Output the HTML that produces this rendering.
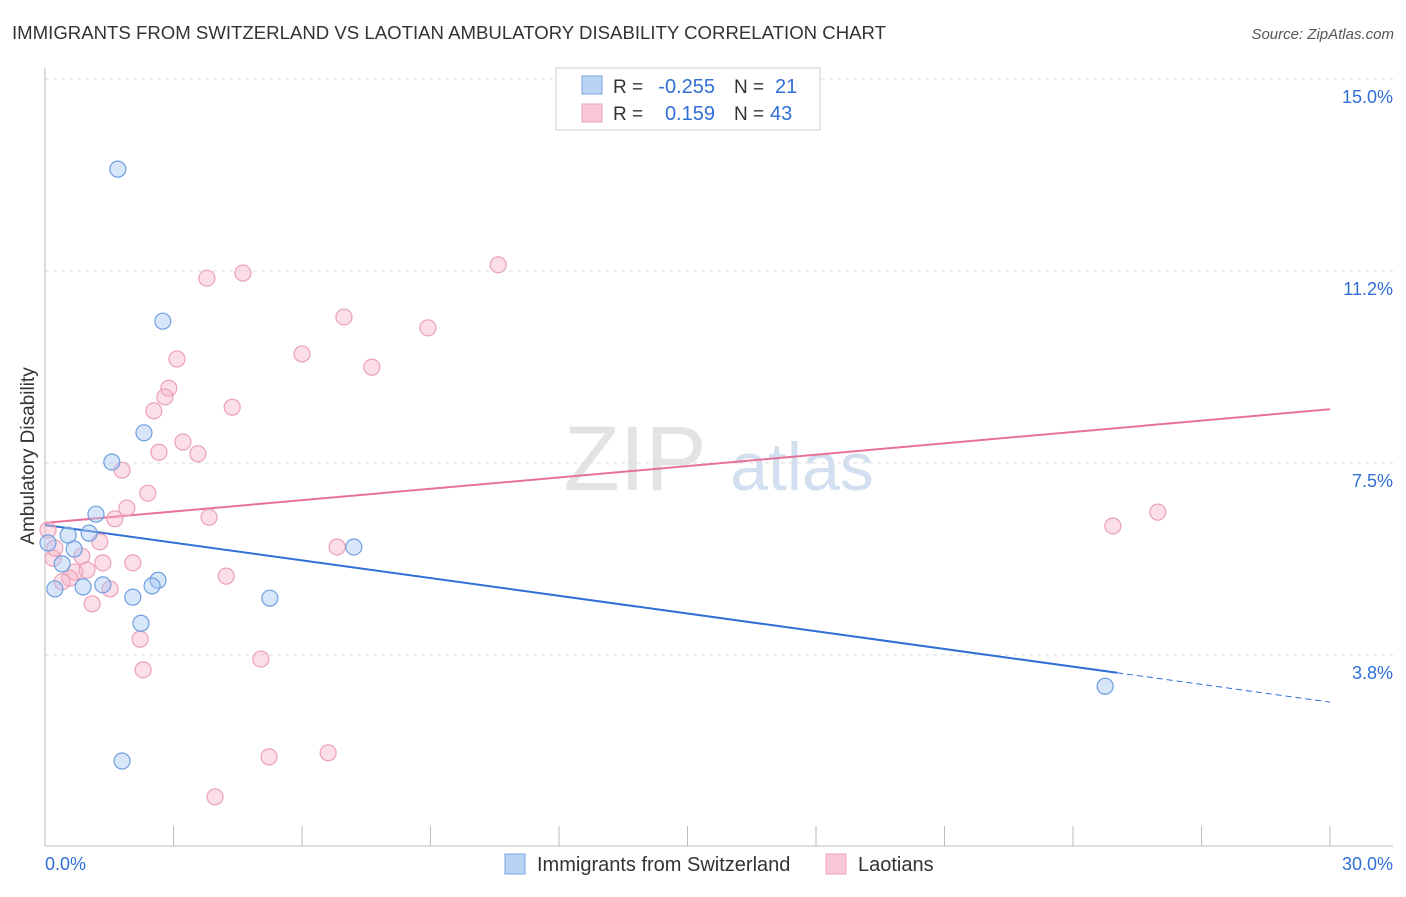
<!DOCTYPE html>
<html><head><meta charset="utf-8"><style>
body{margin:0;background:#fff;font-family:"Liberation Sans",sans-serif;}
svg text{font-family:"Liberation Sans",sans-serif;}
</style></head><body>
<svg id="c" width="1406" height="892">
<text x="12" y="39" font-size="18" fill="#333" textLength="874" lengthAdjust="spacingAndGlyphs">IMMIGRANTS FROM SWITZERLAND VS LAOTIAN AMBULATORY DISABILITY CORRELATION CHART</text>
<text x="1394" y="39" font-size="15" fill="#555" text-anchor="end" font-style="italic">Source: ZipAtlas.com</text>
<text x="34" y="456" font-size="19" fill="#333" text-anchor="middle" transform="rotate(-90 34 456)">Ambulatory Disability</text>
<g><text x="635" y="490" font-size="92" fill="#ddd" text-anchor="middle" font-family="Liberation Serif" opacity="0.8">ZIP</text><text x="802" y="490" font-size="68" fill="#c8d8ee" text-anchor="middle" opacity="0.8">atlas</text></g>
<g id="grid"></g><g id="axes"></g><g id="lines"></g><g id="pts"></g>
<g>
<rect x="556" y="68" width="264" height="62" fill="#fff" stroke="#ccc"/>
<rect x="582" y="76" width="20" height="18" fill="#b9d3f5" stroke="#7aa6e0"/>
<rect x="582" y="104" width="20" height="18" fill="#f9c8d6" stroke="#eba0b6"/>
<text x="613" y="93" font-size="19" fill="#333">R =</text>
<text x="715" y="93" font-size="20" fill="#2f6fd6" text-anchor="end">-0.255</text>
<text x="734" y="93" font-size="19" fill="#333">N =</text>
<text x="775" y="93" font-size="20" fill="#2f6fd6">21</text>
<text x="613" y="120" font-size="19" fill="#333">R =</text>
<text x="715" y="120" font-size="20" fill="#2f6fd6" text-anchor="end">0.159</text>
<text x="734" y="120" font-size="19" fill="#333">N =</text>
<text x="770" y="120" font-size="20" fill="#2f6fd6">43</text>
</g>
<g>
<rect x="505" y="854" width="20" height="20" fill="#b9d3f5" stroke="#7aa6e0"/>
<text x="537" y="871" font-size="20" fill="#333">Immigrants from Switzerland</text>
<rect x="826" y="854" width="20" height="20" fill="#f9c8d6" stroke="#eba0b6"/>
<text x="858" y="871" font-size="20" fill="#333">Laotians</text>
</g>
</svg>
<script>
const yTicks=[3.75,7.5,11.25,15];
const yTickLabels=["3.8%","7.5%","11.2%","15.0%"];
const xTickLabels=["0.0%","30.0%"];
const blueX=[1.70,2.75,2.31,1.56,1.19,0.54,1.03,0.68,0.40,0.23,0.89,1.35,2.64,2.50,2.05,5.25,2.24,7.21,1.80,24.75,0.07];
const blueY=[13.24,10.27,8.09,7.52,6.50,6.09,6.13,5.82,5.53,5.04,5.08,5.12,5.21,5.10,4.88,4.86,4.37,5.86,1.68,3.14,5.94];
const pinkX=[4.62,3.78,10.58,6.98,8.94,3.08,6.00,7.63,2.89,2.80,2.54,4.37,3.22,2.66,3.57,1.80,2.40,1.91,1.63,3.83,1.28,0.86,0.19,6.82,1.35,2.05,0.70,0.98,4.23,0.58,0.40,1.52,1.10,2.22,2.29,5.04,5.23,6.61,3.97,24.93,25.98,0.07,0.23];
const pinkY=[11.21,11.11,11.37,10.35,10.14,9.53,9.63,9.37,8.96,8.79,8.52,8.59,7.91,7.71,7.68,7.36,6.91,6.62,6.41,6.44,5.96,5.68,5.64,5.86,5.55,5.55,5.37,5.41,5.29,5.25,5.18,5.04,4.75,4.06,3.46,3.67,1.76,1.84,0.98,6.27,6.54,6.19,5.84];
const blueTrend=[6.29,2.83];
const pinkTrend=[6.33,8.55];
const NS="http://www.w3.org/2000/svg";
const sx=v=>45+v/30*1285, sy=v=>847-v/3.75*192;
function mk(t,a,p){const e=document.createElementNS(NS,t);for(const k in a)e.setAttribute(k,a[k]);p.appendChild(e);return e;}
const grid=document.getElementById('grid'),axes=document.getElementById('axes'),lines=document.getElementById('lines'),pts=document.getElementById('pts');
yTicks.forEach((t,i)=>{
 const l=mk('line',{x1:45,x2:1393,y1:sy(t),y2:sy(t),stroke:'#ddd','stroke-dasharray':'4 4'},grid);
 
 
 const tx=mk('text',{x:1393,y:sy(t)+24,'font-size':18,fill:'#2f6fd6','text-anchor':'end'},axes);
 tx.textContent=yTickLabels[i];
 
 
});
const ax=mk('line',{x1:45,x2:1393,y1:846,y2:846,stroke:'#bbb'},axes);


const ay=mk('line',{x1:45,x2:45,y1:68,y2:846,stroke:'#bbb'},axes);


for(let i=0;i<=10;i++){const t=mk('line',{x1:sx(i*3),x2:sx(i*3),y1:826,y2:846,stroke:'#bbb'},axes);
 
 }
[[0,'start',45],[30,'end',1393]].forEach((d,i)=>{const t=mk('text',{x:d[2],y:870,'font-size':18,fill:'#2f6fd6','text-anchor':d[1]},axes);t.textContent=xTickLabels[i];
 
 });
function dots(X,Y,fill,stroke,name){X.forEach((x,i)=>{const c=mk('circle',{cx:sx(x),cy:sy(Y[i]),r:8,fill:fill,'fill-opacity':0.45,stroke:stroke,'stroke-width':1.2},pts);
 
 });}
dots(pinkX,pinkY,'#f7b6c9','#eba0b6','laotians-point');
dots(blueX,blueY,'#a9c8f2','#6f9fe0','switzerland-point');
const bm=25.03, bmy=blueTrend[0]+(blueTrend[1]-blueTrend[0])*bm/30;
const b1=mk('line',{x1:sx(0),y1:sy(blueTrend[0]),x2:sx(bm),y2:sy(bmy),stroke:'#2f6fd6','stroke-width':2},lines);


const b2=mk('line',{x1:sx(bm),y1:sy(bmy),x2:sx(30),y2:sy(blueTrend[1]),stroke:'#2f6fd6','stroke-width':1,'stroke-dasharray':'6 4'},lines);


const p1=mk('line',{x1:sx(0),y1:sy(pinkTrend[0]),x2:sx(30),y2:sy(pinkTrend[1]),stroke:'#e8719a','stroke-width':2},lines);


</script>
</body></html>
